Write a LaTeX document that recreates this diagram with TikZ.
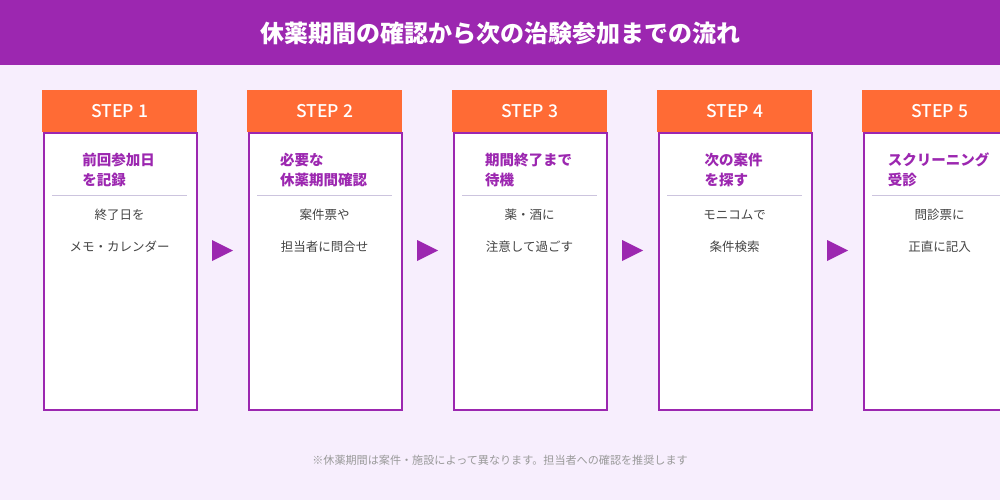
\documentclass[tikz,border=0pt]{standalone}
\usepackage{fontspec}
\setmainfont{Noto Sans CJK JP}
\newfontfamily\stepfont{Noto Sans CJK JP Medium}
\definecolor{purp}{HTML}{9C27B0}
\definecolor{orng}{HTML}{FF6B35}
\definecolor{bgc}{HTML}{F7EEFD}
\definecolor{sepc}{HTML}{CCC4DE}
\definecolor{bodyc}{HTML}{444444}
\definecolor{notec}{HTML}{999999}
\tikzset{
  stepbody/.style={draw=purp, line width=2pt, fill=white, minimum width=153pt, minimum height=277pt, inner sep=0pt, anchor=north west},
  stephead/.style={fill=orng, text=white, minimum width=155pt, minimum height=42pt, inner sep=0pt, anchor=north west, font=\stepfont\fontsize{17.5}{20}\selectfont},
  steptitle/.style={text=purp, align=left, inner sep=0pt, font=\bfseries\fontsize{14.5}{20}\selectfont},
  steptext/.style={text=bodyc, inner sep=0pt, font=\fontsize{12.5}{15}\selectfont},
  sepline/.style={draw=sepc, line width=1pt},
  steparrow/.style={fill=purp}
}
\begin{document}
\begin{tikzpicture}[x=1pt,y=-1pt]
\useasboundingbox (0,0) rectangle (1000,500);
\clip (0,0) rectangle (1000,500);
\fill[bgc] (0,0) rectangle (1000,500);
\fill[purp] (0,0) rectangle (1000,65);
\node[text=white, font=\bfseries\fontsize{24}{28}\selectfont] (title) at (500,33) {休薬期間の確認から次の治験参加までの流れ};
\foreach \i/\ta/\tb/\ba/\bb in {
  1/前回参加日/を記録/終了日を/メモ・カレンダー,
  2/必要な/休薬期間確認/案件票や/担当者に問合せ,
  3/期間終了まで/待機/薬・酒に/注意して過ごす,
  4/次の案件/を探す/モニコムで/条件検索,
  5/スクリーニング/受診/問診票に/正直に記入}{
  \pgfmathsetmacro{\xx}{42+(\i-1)*205}
  \node[stepbody] (b\i) at (\xx+1,132) {};
  \node[stephead] (h\i) at (\xx,90) {STEP \i};
  \node[steptitle] (t\i) at (\xx+76.5,170) {\ta\\\tb};
  \draw[sepline] (\xx+10,195) -- (\xx+145,195);
  \node[steptext] (p\i) at (\xx+77.5,215) {\ba};
  \node[steptext] (q\i) at (\xx+77.5,247) {\bb};
}
\foreach \i in {1,2,3,4}{
  \pgfmathsetmacro{\xx}{42+(\i-1)*205}
  \fill[steparrow] (\xx+170,240) -- (\xx+191,250.5) -- (\xx+170,261) -- cycle;
}
\node[text=notec, font=\fontsize{11.1}{13}\selectfont] (note) at (500,460) {※休薬期間は案件・施設によって異なります。担当者への確認を推奨します};
\end{tikzpicture}
\end{document}
